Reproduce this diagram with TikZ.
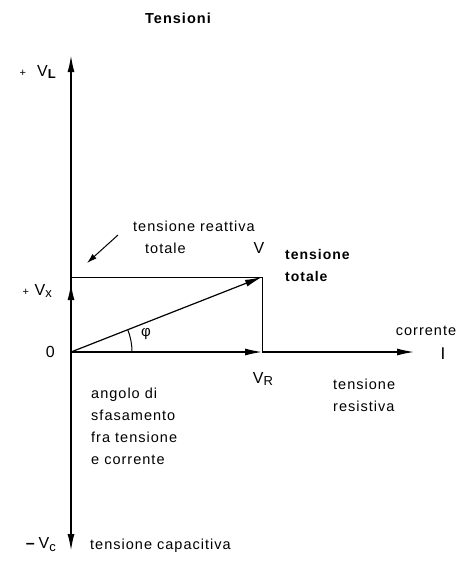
\documentclass[tikz,border=0pt]{standalone}
\usepackage{fontspec}
\setmainfont{Liberation Sans}[LetterSpace=7]
\usetikzlibrary{arrows.meta}
\newcommand{\sbs}[1]{\raisebox{-0.35ex}{\fontsize{13}{14}\selectfont #1}}
\newcommand{\plussign}{{\fontsize{11}{12}\selectfont +}}
\begin{document}
\begin{tikzpicture}[x=1pt,y=-1pt,
  lbl/.style={inner sep=0pt,font=\fontsize{14.5}{22}\selectfont},
  vlbl/.style={inner sep=0pt,font=\fontsize{16}{18}\selectfont},
  tip/.style={-{Latex[length=17pt,width=7pt]}},
  axis/.style={line width=1.8pt},
  vec/.style={line width=1.2pt},
  thin/.style={line width=1pt}]
\useasboundingbox (0,0) rectangle (458,584);
\coordinate (O) at (71,352);
\coordinate (top) at (71,55);
\coordinate (bot) at (71,551);
\coordinate (Vx) at (71,283);
\coordinate (V) at (262,277);
\coordinate (Vc) at (71,277);
\coordinate (VR) at (262,352);
\coordinate (Iend) at (414,352);
\coordinate (pa) at (118,235);
\coordinate (pb) at (87,263);
% axes
\draw[axis,tip] (O) -- (top);
\draw[axis,tip] (O) -- (bot);
\draw[axis,tip] (O) -- (Vx);
\draw[vec,tip] (VR) -- (Iend);
\draw[vec,tip] (O) -- (VR);
\draw[vec,tip] (O) -- (V);
\draw[thin] (Vc) -- (V) -- (VR);
\draw[thin,-{Latex[length=10pt,width=6pt]}] (pa) -- (pb);
\draw[thin] (O) ++(0:61) arc[start angle=0,end angle=-21.4,radius=61];
% labels
\node[lbl,font=\bfseries\fontsize{14.5}{16}\selectfont] (title) at (178,18) {Tensioni};
\node[vlbl,anchor=east] (VL) at (56,72) {\plussign\ \ V\sbs{\bfseries L}};
\node[vlbl,anchor=east] (VXl) at (52,291) {\plussign\ V\sbs{x}};
\node[vlbl,anchor=east] (zero) at (55,352) {0};
\node[vlbl,anchor=east] (VC) at (56,545) {\textbf{--}\,V\sbs{c}};
\node[lbl,anchor=west] (tcap) at (90,546) {tensione capacitiva};
\node[lbl,anchor=west,align=left] (treat) at (133,237) {tensione reattiva\\\hspace*{12pt}totale};
\node[vlbl] (Vl) at (259,248) {V};
\node[lbl,anchor=west,align=left,font=\bfseries\fontsize{14}{22}\selectfont] (ttot) at (285,265) {tensione\\totale};
\node[lbl,font=\fontsize{15}{16}\selectfont] (phi) at (146,334) {φ};
\node[lbl] (corr) at (426,331) {corrente};
\node[lbl,font=\fontsize{17}{18}\selectfont] (Il) at (443,354) {I};
\node[vlbl] (VRl) at (263,379) {V\sbs{R}};
\node[lbl,anchor=west,align=left] (tres) at (333,395) {tensione\\resistiva};
\node[lbl,anchor=west,align=left] (ang) at (91,426) {angolo di\\sfasamento\\fra tensione\\e corrente};
\end{tikzpicture}
\end{document}
